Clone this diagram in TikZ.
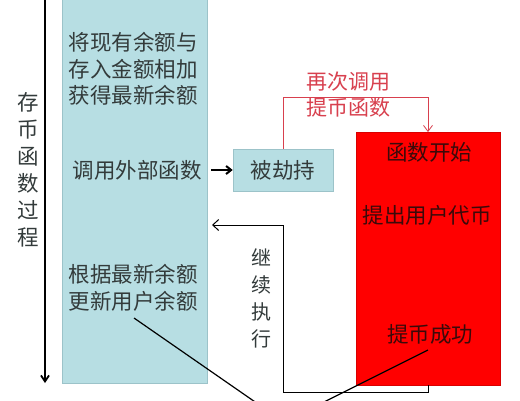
\documentclass[tikz,border=0pt]{standalone}
\usepackage{fontspec}
\setmainfont{Noto Sans CJK SC}
\usetikzlibrary{arrows.meta}
\definecolor{tealfill}{HTML}{B7DEE3}
\definecolor{tealdraw}{HTML}{9CC3C9}
\definecolor{redlabel}{HTML}{D8404E}
\definecolor{txt}{HTML}{333B3B}
\definecolor{redtxt}{HTML}{3A0A0A}
\tikzset{
  cjk/.style={font=\fontsize{21.5}{26.5}\selectfont, text=txt, align=center, inner sep=0pt},
  tealbox/.style={fill=tealfill, draw=tealdraw, line width=0.6pt},
  redbox/.style={fill=red, draw=red!85!black, line width=0.4pt},
}
\begin{document}
\begin{tikzpicture}[x=1pt,y=-1pt]
\useasboundingbox (0,0) rectangle (520,400);
\clip (0,0) rectangle (520,400);
\fill[white] (0,0) rectangle (520,400);
% teal column
\path[tealbox] (62,-5) rectangle (207,383);
\node[cjk] (t1) at (133,69) {将现有余额与\\存入金额相加\\获得最新余额};
\node[cjk] (t2) at (137,170) {调用外部函数};
\node[cjk] (t3) at (133,288) {根据最新余额\\更新用户余额};
% hijack box
\node[tealbox, cjk, minimum width=100pt, minimum height=42pt] (hj) at (283,170) {被劫持};
% red box
\path[redbox] (356,132) rectangle (500,385);
\coordinate (rtop) at (428,132);
\coordinate (rbot) at (428,385);
\node[cjk, text=redtxt] (r1) at (429,152) {函数开始};
\node[cjk, text=redtxt] (r2) at (427,215) {提出用户代币};
\node[cjk, text=redtxt] (r3) at (430,334) {提币成功};
% left timeline
\coordinate (ltop) at (45,-2);
\coordinate (lbot) at (45,383);
\draw[line width=1.8pt, -{Straight Barb[length=6pt,width=8pt]}] (ltop) -- (lbot);
\node[cjk, font=\fontsize{21.5}{27}\selectfont] (lbl) at (28,170) {存\\币\\函\\数\\过\\程};
% call arrow
\coordinate (ca) at (211,170);
\draw[line width=2pt, -{Straight Barb[length=5pt,width=8pt]}] (ca) -- (hj.west);
% red re-call
\draw[redlabel, line width=0.8pt, -{Straight Barb[length=6pt,width=9pt]}] (hj.north) |- (428,97) -- (rtop);
\node[cjk, text=redlabel, font=\fontsize{21}{26}\selectfont] (rl) at (348,95) {再次调用\\提币函数};
% continue execution
\coordinate (ce) at (212,225);
\draw[line width=1pt, -{Straight Barb[length=6pt,width=11pt]}] (rbot) -- (428,392) -| (283,225) -- (ce);
\node[cjk, font=\fontsize{20}{27}\selectfont] (cl) at (261,298) {继\\续\\执\\行};
% V lines
\coordinate (vb) at (284,422);
\draw[line width=1.2pt] (134,318) -- (vb) -- (428,350);
\end{tikzpicture}
\end{document}
